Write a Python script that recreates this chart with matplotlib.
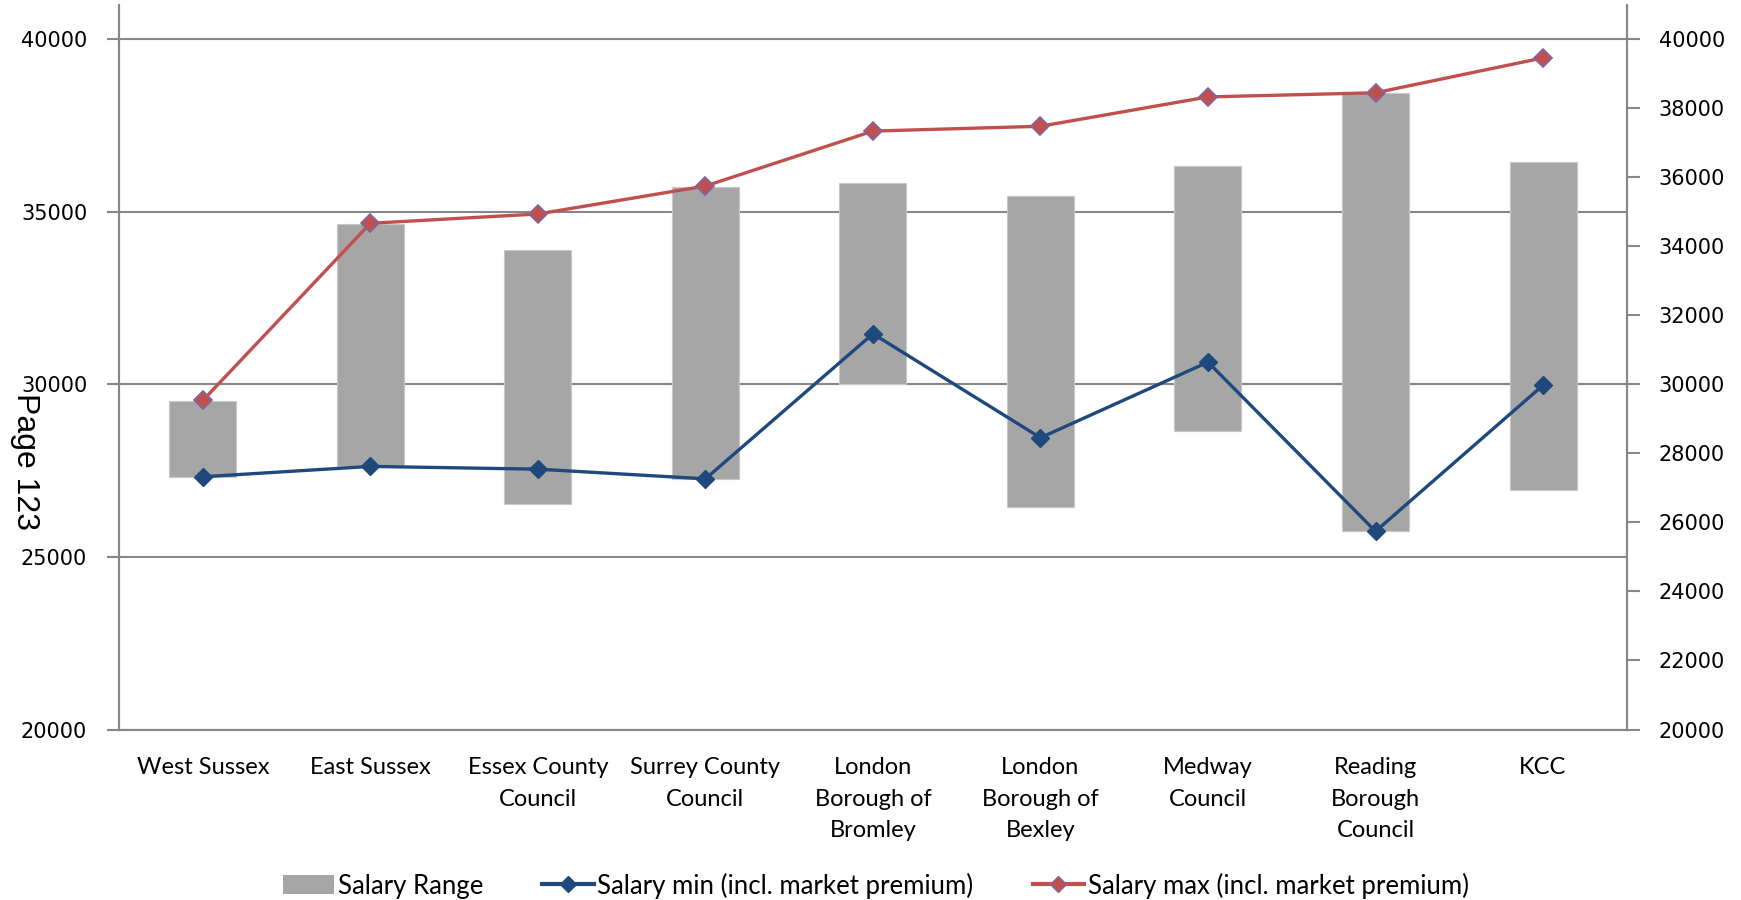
import matplotlib
matplotlib.use("Agg")
import matplotlib.pyplot as plt
import numpy as np
from matplotlib.lines import Line2D
from matplotlib.patches import Patch

categories = ["West Sussex", "East Sussex", "Essex County\nCouncil", "Surrey County\nCouncil",
              "London\nBorough of\nBromley", "London\nBorough of\nBexley", "Medway\nCouncil",
              "Reading\nBorough\nCouncil", "KCC"]
range_low = [27320, 27620, 26540, 27260, 30000, 26450, 28640, 25740, 26950]
range_high = [29520, 34640, 33900, 35720, 35830, 35450, 36310, 38420, 36430]
salary_min = [27320, 27620, 27540, 27260, 31460, 28450, 30640, 25740, 29970]
salary_max = [29530, 34660, 34930, 35740, 37330, 37470, 38320, 38440, 39450]
left_ticks = [20000, 25000, 30000, 35000, 40000]
right_ticks = list(range(20000, 40001, 2000))

GRID = "#878787"
BAR = "#A6A6A6"
BLUE = "#1F497D"
RED = "#C0504D"
PURPLE = "#8064A2"
LABEL_FONT = ["Lato", "DejaVu Sans"]
NUM_FONT = ["DejaVu Sans"]

fig = plt.figure(figsize=(17.41, 9.0), dpi=100)
ax = fig.add_axes([0.0684, 0.1894, 0.866, 0.8046])
ax2 = ax.twinx()

x = np.arange(len(categories))
heights = [h - l for h, l in zip(range_high, range_low)]
ax.bar(x, heights, bottom=range_low, width=0.4, color=BAR, edgecolor="#C8C8C8",
       linewidth=0.8, zorder=2)

ax2.plot(x, salary_min, color=BLUE, lw=2.4, marker="D", ms=9, mfc=BLUE, mec=BLUE, zorder=3)
ax2.plot(x, salary_max, color=RED, lw=2.4, marker="D", ms=9, mfc=RED, mec=PURPLE,
         mew=1.2, zorder=3)

ymin, ymax = 20000, 40970
for a in (ax, ax2):
    a.set_ylim(ymin, ymax)
    a.set_xlim(-0.5, len(categories) - 0.5)
    a.spines["top"].set_visible(False)
    for s in ("left", "right", "bottom"):
        a.spines[s].set_color(GRID)
        a.spines[s].set_linewidth(1.5)

ax.set_yticks(left_ticks)
ax.set_yticklabels([str(t) for t in left_ticks], fontfamily=NUM_FONT, fontsize=15)
ax.tick_params(axis="y", direction="out", length=9, width=1.5, color=GRID, pad=14)
ax.yaxis.grid(True, color=GRID, lw=1.5, zorder=0)
ax.set_axisbelow(True)

ax2.set_yticks(right_ticks)
ax2.set_yticklabels([str(t) for t in right_ticks], fontfamily=NUM_FONT, fontsize=15)
ax2.tick_params(axis="y", direction="out", length=9, width=1.5, color=GRID, pad=14)

ax.set_xticks(np.arange(-0.5, len(categories), 1.0))
ax.set_xticklabels([])
ax.tick_params(axis="x", which="major", direction="out", length=9, width=1.5, color=GRID)
ax.set_xticks(x, minor=True)
ax.set_xticklabels(categories, minor=True, fontfamily=LABEL_FONT, fontsize=17,
                   linespacing=1.62, va="top")
ax.tick_params(axis="x", which="minor", length=0, pad=20)
ax2.set_xticks([])

fig.text(0.0145, 0.487, "Page 123", rotation=-90, fontfamily=["Liberation Sans"],
         fontsize=23, ha="center", va="center")

handles = [Patch(facecolor=BAR, edgecolor="none"),
           Line2D([], [], color=BLUE, lw=3, marker="D", ms=8, mfc=BLUE, mec=BLUE),
           Line2D([], [], color=RED, lw=3, marker="D", ms=8, mfc=RED, mec=PURPLE)]
labels = ["Salary Range", "Salary min (incl. market premium)", "Salary max (incl. market premium)"]
fig.legend(handles, labels, loc="center", bbox_to_anchor=(0.503, 0.016), ncol=3,
           frameon=False, prop={"family": LABEL_FONT, "size": 18.5}, handlelength=2.0,
           handleheight=0.75, columnspacing=2.3, handletextpad=0.15)

fig.savefig("out.png", dpi=100)
